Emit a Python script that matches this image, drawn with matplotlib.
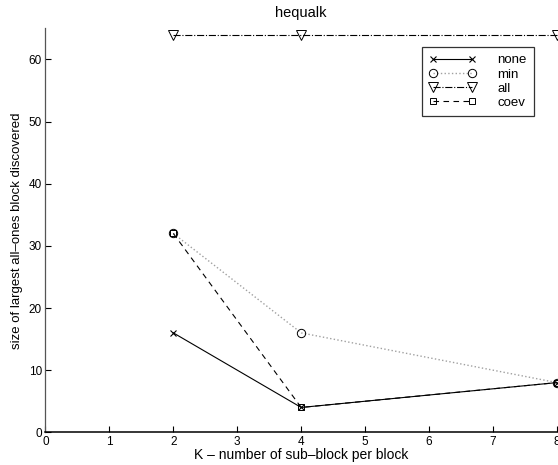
import matplotlib
matplotlib.use('Agg')
import matplotlib.pyplot as plt

plt.rcParams['font.family'] = ['Liberation Sans', 'DejaVu Sans']

k_values = [2, 4, 8]
none_sizes = [16, 4, 8]
min_sizes = [32, 16, 8]
all_sizes = [64, 64, 64]
coev_sizes = [32, 4, 8]

fig = plt.figure(figsize=(5.58, 4.65), dpi=100)
ax = fig.add_axes([0.0815, 0.0703, 0.9165, 0.8687])

ax.plot(k_values, none_sizes, color='black', linestyle='-', marker='x',
        markersize=4, markeredgewidth=0.8, linewidth=0.8, label='none', clip_on=False)
ax.plot(k_values, min_sizes, color='#a0a0a0', linestyle=':', marker='o',
        markersize=6, markerfacecolor='none', markeredgecolor='black',
        markeredgewidth=0.7, linewidth=1.0, label='min', clip_on=False)
ax.plot(k_values, all_sizes, color='black', linestyle='-.', marker='v',
        markersize=6.5, markerfacecolor='none', markeredgewidth=0.7,
        linewidth=0.8, label='all', clip_on=False)
ax.plot(k_values, coev_sizes, color='black', linestyle='--', marker='s',
        markersize=4.5, markerfacecolor='none', markeredgewidth=0.7,
        linewidth=0.8, dashes=(5, 4), label='coev', clip_on=False)

ax.set_xlim(0, 8)
ax.set_ylim(0, 65)
ax.set_xticks(range(0, 9))
ax.set_yticks(range(0, 61, 10))
ax.tick_params(labelsize=8.5, direction='in', length=4, width=0.8, pad=2.5)
ax.spines['top'].set_visible(False)
ax.spines['right'].set_visible(False)
ax.spines['left'].set_linewidth(0.9)
ax.spines['left'].set_color('#555555')
ax.spines['bottom'].set_linewidth(1.1)

ax.set_title('hequalk', fontsize=10.5, pad=8)
ax.set_xlabel('K \u2013 number of sub\u2013block per block', fontsize=10, labelpad=0)
ax.set_ylabel('size of largest all\u2013ones block discovered', fontsize=9.5, labelpad=4)

leg = ax.legend(loc='upper left', bbox_to_anchor=(0.7355, 0.954), fontsize=9.5,
                markerfirst=True, frameon=True, fancybox=False, edgecolor='black',
                handlelength=3.6, handletextpad=1.6, labelspacing=0.15,
                borderpad=0.55, borderaxespad=0, numpoints=2)
leg.get_frame().set_linewidth(0.9)

fig.savefig('out.png', dpi=100)
